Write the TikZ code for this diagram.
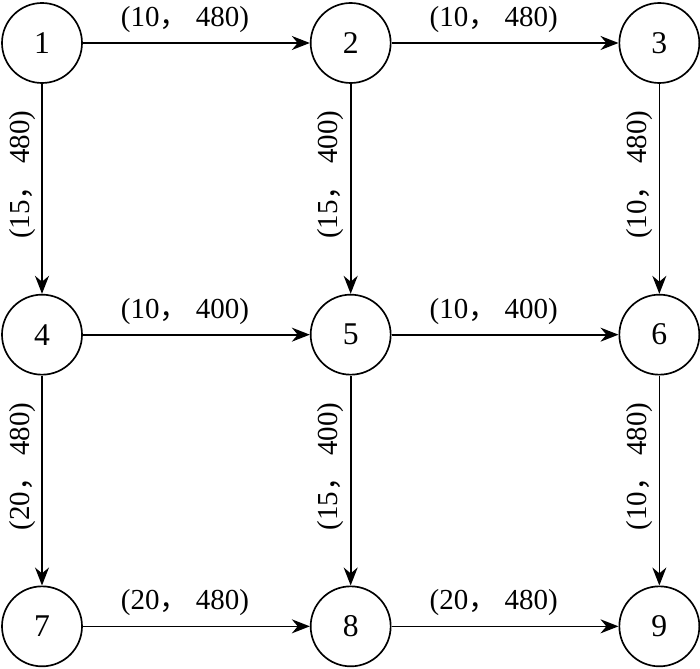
\documentclass[tikz,border=0pt]{standalone}
\usepackage{fontspec}
\setmainfont{Liberation Serif}
\newfontfamily\cjk{Noto Sans CJK SC}
\usetikzlibrary{arrows.meta, positioning}

\newcommand{\cost}[2]{(#1{\cjk ，} #2)}

\begin{document}
\begin{tikzpicture}[
        vertex/.style={circle, draw=black, line width=0.95pt, minimum size=1.6cm, inner sep=0pt, font=\fontsize{18}{20}\selectfont},
        arrow/.style={-{Stealth[length=0.36cm, width=0.28cm]}, line width=0.95pt},
        hlab/.style={pos=0.45, above=2pt, font=\fontsize{16.5}{18}\selectfont},
        vlab/.style={pos=0.45, rotate=90, above=2pt, font=\fontsize{16.5}{18}\selectfont},
        node distance=4.2cm and 4.54cm
    ]
        \useasboundingbox (0,0) rectangle (14,13.36);
        \node[vertex] (n1) at (0.84,12.5) {1};
        \node[vertex, right=of n1] (n2) {2};
        \node[vertex, right=of n2] (n3) {3};
        \node[vertex, below=of n1] (n4) {4};
        \node[vertex, right=of n4] (n5) {5};
        \node[vertex, right=of n5] (n6) {6};
        \node[vertex, below=of n4] (n7) {7};
        \node[vertex, right=of n7] (n8) {8};
        \node[vertex, right=of n8] (n9) {9};
        % horizontal edges
        \draw[arrow] (n1) -- node[hlab] {\cost{10}{480}} (n2);
        \draw[arrow] (n2) -- node[hlab] {\cost{10}{480}} (n3);
        \draw[arrow] (n4) -- node[hlab] {\cost{10}{400}} (n5);
        \draw[arrow] (n5) -- node[hlab] {\cost{10}{400}} (n6);
        \draw[arrow] (n7) -- node[hlab] {\cost{20}{480}} (n8);
        \draw[arrow] (n8) -- node[hlab] {\cost{20}{480}} (n9);
        % vertical edges
        \draw[arrow] (n1) -- node[vlab] {\cost{15}{480}} (n4);
        \draw[arrow] (n2) -- node[vlab] {\cost{15}{400}} (n5);
        \draw[arrow] (n3) -- node[vlab] {\cost{10}{480}} (n6);
        \draw[arrow] (n4) -- node[vlab] {\cost{20}{480}} (n7);
        \draw[arrow] (n5) -- node[vlab] {\cost{15}{400}} (n8);
        \draw[arrow] (n6) -- node[vlab] {\cost{10}{480}} (n9);
    \end{tikzpicture}
\end{document}
